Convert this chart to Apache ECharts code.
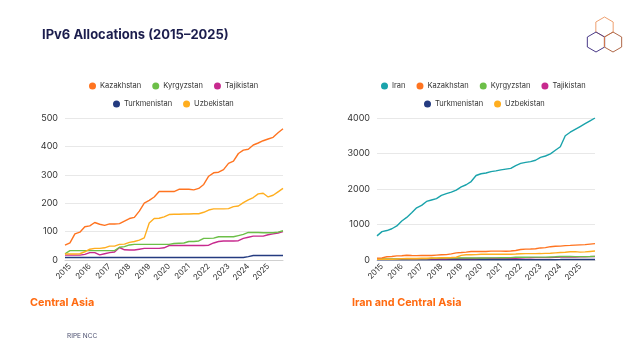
<!DOCTYPE html>
<html>
<head>
<meta charset="utf-8">
<script src="https://cdn.jsdelivr.net/npm/echarts@6/dist/echarts.min.js"></script>
<style>
html,body{margin:0;padding:0;background:#fff;}
#c{width:640px;height:360px;}
</style>
</head>
<body>
<div id="c"></div>
<script>
// Quarterly categories (start of quarter)
const categories = [
  "2014-10",
  "2015-01","2015-04","2015-07","2015-10",
  "2016-01","2016-04","2016-07","2016-10",
  "2017-01","2017-04","2017-07","2017-10",
  "2018-01","2018-04","2018-07","2018-10",
  "2019-01","2019-04","2019-07","2019-10",
  "2020-01","2020-04","2020-07","2020-10",
  "2021-01","2021-04","2021-07","2021-10",
  "2022-01","2022-04","2022-07","2022-10",
  "2023-01","2023-04","2023-07","2023-10",
  "2024-01","2024-04","2024-07","2024-10",
  "2025-01","2025-04","2025-07","2025-10"
];

const iran = [680,800,830,880,960,1100,1200,1330,1470,1540,1650,1690,1730,1820,1870,1910,1970,2060,2120,2210,2380,2430,2450,2490,2510,2540,2560,2580,2660,2720,2750,2770,2810,2890,2930,2990,3090,3190,3500,3600,3680,3760,3840,3920,4000];
const kazakhstan = [52,60,92,98,117,120,132,126,122,127,127,128,137,146,150,172,200,210,222,241,241,241,241,249,249,249,247,252,266,295,307,309,318,340,348,375,387,390,405,412,420,426,432,448,462];
const kyrgyzstan = [22,33,33,33,33,33,33,33,33,33,33,45,47,53,55,55,55,55,55,55,55,55,58,59,60,65,65,67,76,76,77,82,82,82,82,86,90,97,97,97,96,96,96,98,103];
const tajikistan = [17,17,17,17,20,26,26,18,22,26,28,44,36,35,35,38,41,41,41,41,43,51,51,51,51,51,51,51,51,52,60,65,67,67,67,68,76,80,84,84,84,89,92,95,100];
const turkmenistan = [9,9,9,9,9,9,9,9,9,9,9,9,9,9,9,9,9,9,9,9,9,9,9,9,9,9,9,9,9,9,9,9,9,9,9,9,9,12,16,16,16,16,16,16,16];
const uzbekistan = [21,21,21,22,29,38,41,41,43,49,49,55,56,62,65,70,78,130,146,147,152,160,161,161,162,162,163,163,168,176,180,180,180,181,188,190,202,212,220,233,235,222,228,240,252];

const leftTicks = {max:500, interval:100};
const rightTicks = {max:4000, interval:1000};

const colors = {
  Iran:"#1aa3ab",
  Kazakhstan:"#ff7420",
  Kyrgyzstan:"#6cbf48",
  Tajikistan:"#c72a8e",
  Turkmenistan:"#243b80",
  Uzbekistan:"#ffae1f"
};

const FONT = "Inter, 'Noto Sans', sans-serif";

function xAxis(gi){
  return {
    type:'category', gridIndex:gi, data:categories, boundaryGap:false,
    axisTick:{show:false},
    axisLine:{lineStyle:{color:'#d0d0d0'}},
    axisLabel:{
      interval:function(i,v){return v.slice(5)==='01';},
      formatter:function(v){return v.slice(0,4);},
      rotate:45, fontSize:8, color:'#333', fontFamily:FONT, margin:5
    }
  };
}
function yAxis(gi,t){
  return {
    type:'value', gridIndex:gi, min:0, max:t.max, interval:t.interval,
    axisLine:{show:false}, axisTick:{show:false},
    axisLabel:{fontSize:9, color:'#333', fontFamily:FONT, margin:7, formatter:function(v){return String(v);}},
    splitLine:{lineStyle:{color:'#e8e8e8'}}
  };
}
function line(name,data,gi){
  return {
    name:name, type:'line', data:data, xAxisIndex:gi, yAxisIndex:gi,
    showSymbol:false, symbol:'none',
    lineStyle:{width:1.4, color:colors[name]}, itemStyle:{color:colors[name]},
    emphasis:{disabled:true}, animation:false
  };
}
function legend(names,left,top){
  return {
    data:names, left:left, top:top, icon:'circle', itemWidth:7, itemHeight:7,
    itemGap:11, padding:0, textStyle:{fontSize:7.5, color:'#333', fontFamily:FONT, padding:[0,0,0,-1]}
  };
}

// logo hexagons
function hex(cx,cy,r,color){
  const pts=[];
  for(let k=0;k<6;k++){
    const a=Math.PI/180*(90+60*k);
    pts.push([cx+r*Math.cos(a), cy-r*Math.sin(a)]);
  }
  return {type:'polygon', shape:{points:pts}, style:{fill:'none', stroke:color, lineWidth:1}};
}
function seg(x1,y1,x2,y2,color){
  return {type:'line', shape:{x1:x1,y1:y1,x2:x2,y2:y2}, style:{stroke:color, lineWidth:1}};
}

const chart = echarts.init(document.getElementById('c'), null, {renderer:'canvas'});
chart.setOption({
  backgroundColor:'#fff',
  animation:false,
  title:[
    {text:'IPv6 Allocations (2015–2025)', left:37, top:24, textStyle:{fontSize:13, fontWeight:'bold', color:'#1b1d4d', fontFamily:FONT}},
    {text:'Central Asia', left:25, top:292, textStyle:{fontSize:10.8, fontWeight:'bold', color:'#ff6a10', fontFamily:FONT}},
    {text:'Iran and Central Asia', left:347, top:292, textStyle:{fontSize:10.8, fontWeight:'bold', color:'#ff6a10', fontFamily:FONT}},
    {text:'RIPE NCC', left:62, top:328, textStyle:{fontSize:6.5, fontWeight:'normal', color:'#4a4e6e', fontFamily:FONT}}
  ],
  legend:[
    legend(['Kazakhstan','Kyrgyzstan','Tajikistan'],89,82),
    legend(['Turkmenistan','Uzbekistan'],113,100),
    legend(['Iran','Kazakhstan','Kyrgyzstan','Tajikistan'],381,82),
    legend(['Turkmenistan','Uzbekistan'],424,100)
  ],
  grid:[
    {left:65, right:357, top:118, bottom:100},
    {left:377, right:45, top:118, bottom:100}
  ],
  xAxis:[xAxis(0), xAxis(1)],
  yAxis:[yAxis(0,leftTicks), yAxis(1,rightTicks)],
  series:[
    line('Turkmenistan',turkmenistan,0),
    line('Tajikistan',tajikistan,0),
    line('Kyrgyzstan',kyrgyzstan,0),
    line('Uzbekistan',uzbekistan,0),
    line('Kazakhstan',kazakhstan,0),
    line('Turkmenistan',turkmenistan,1),
    line('Tajikistan',tajikistan,1),
    line('Kyrgyzstan',kyrgyzstan,1),
    line('Uzbekistan',uzbekistan,1),
    line('Kazakhstan',kazakhstan,1),
    line('Iran',iran,1)
  ],
  graphic:[
    hex(604.5,27,10,'#eea070'),
    hex(596,42,10,'#4a3a88'),
    hex(613,42,10,'#b06848'),
    seg(604.5,37,604.5,47,'#d07850')
  ]
});
</script>
</body>
</html>
